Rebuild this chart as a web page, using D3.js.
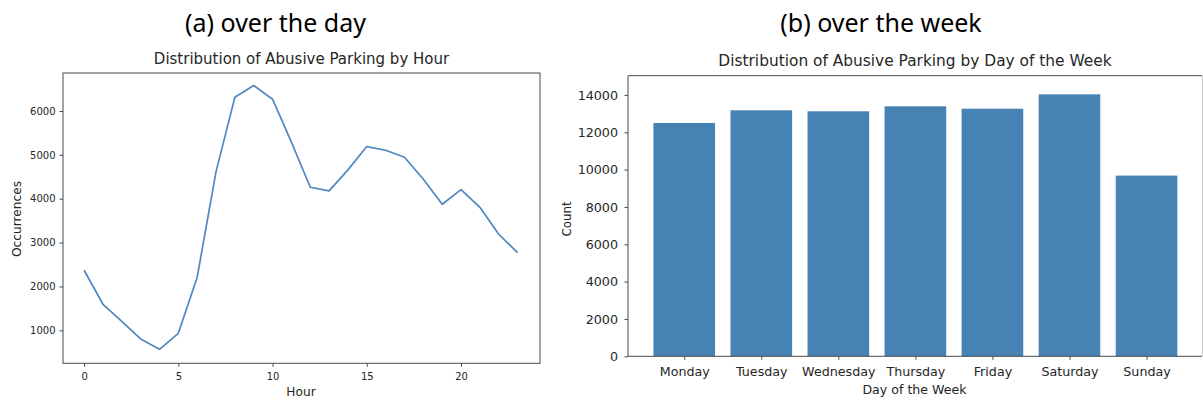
<!DOCTYPE html>
<html>
<head>
<meta charset="utf-8">
<script src="https://cdn.jsdelivr.net/npm/d3@7"></script>
<style>
  html, body { margin: 0; padding: 0; background: #fff; }
  svg { display: block; }
  text { font-family: "DejaVu Sans", sans-serif; fill: #262626; }
  .head { font-family: "Noto Sans", "Open Sans", sans-serif; fill: #000; }
</style>
</head>
<body>
<svg id="fig" width="1203" height="401"></svg>
<script>
// Hourly counts of abusive parking events (hour 0..23)
const hours = d3.range(24);
const hourCounts = [2370, 1594, 1206, 803, 567, 932, 2210, 4618, 6315, 6580, 6269, 5290,
                    4262, 4178, 4657, 5189, 5105, 4946, 4444, 3874, 4208, 3805, 3190, 2771];
const hourTicks = [0, 5, 10, 15, 20];
const occTicks = [1000, 2000, 3000, 4000, 5000, 6000];

// Daily counts of abusive parking events
const days = ["Monday", "Tuesday", "Wednesday", "Thursday", "Friday", "Saturday", "Sunday"];
const dayCounts = [12497, 13176, 13123, 13390, 13262, 14032, 9679];
const countTicks = [0, 2000, 4000, 6000, 8000, 10000, 12000, 14000];

const svg = d3.select("#fig");
const frameColor = "#4a4a4a";
const lineColor = "#4f88c0";
const barColor = "#4682b4";

// Panel headings
svg.append("text").attr("class", "head").attr("x", 275.5).attr("y", 32)
  .attr("text-anchor", "middle").attr("font-size", 25).text("(a) over the day");
svg.append("text").attr("class", "head").attr("x", 881).attr("y", 32)
  .attr("text-anchor", "middle").attr("font-size", 25).text("(b) over the week");

// ---------- Left panel: line chart by hour ----------
const L = { left: 63, right: 540, top: 73, bottom: 363.3 };
const xH = d3.scaleLinear().domain([-1.12, 24.19]).range([L.left, L.right]);
const yH = d3.scaleLinear().domain([248, 6866]).range([L.bottom, L.top]);

const gL = svg.append("g");

gL.append("path")
  .datum(hours)
  .attr("fill", "none")
  .attr("stroke", lineColor)
  .attr("stroke-width", 1.7)
  .attr("stroke-linejoin", "round")
  .attr("d", d3.line().x(h => xH(h)).y(h => yH(hourCounts[h])));

gL.append("rect")
  .attr("x", L.left).attr("y", L.top)
  .attr("width", L.right - L.left).attr("height", L.bottom - L.top)
  .attr("fill", "none").attr("stroke", frameColor).attr("stroke-width", 1);

const axL_x = gL.append("g").attr("transform", `translate(0,${L.bottom})`)
  .call(d3.axisBottom(xH).tickValues(hourTicks).tickSize(3.5).tickPadding(6).tickFormat(d3.format("d")));
const axL_y = gL.append("g").attr("transform", `translate(${L.left},0)`)
  .call(d3.axisLeft(yH).tickValues(occTicks).tickSize(3.5).tickPadding(4).tickFormat(d3.format("d")));
[axL_x, axL_y].forEach(a => {
  a.select(".domain").remove();
  a.selectAll("line").attr("stroke", frameColor);
  a.selectAll("text").attr("font-size", 10).attr("font-family", "DejaVu Sans").attr("fill", "#262626");
});

gL.append("text").attr("x", (L.left + L.right) / 2).attr("y", 64)
  .attr("text-anchor", "middle").attr("font-size", 15).text("Distribution of Abusive Parking by Hour");
gL.append("text").attr("x", 301).attr("y", 395.6)
  .attr("text-anchor", "middle").attr("font-size", 12.2).text("Hour");
gL.append("text").attr("transform", "translate(20.5,219) rotate(-90)")
  .attr("text-anchor", "middle").attr("font-size", 12.2).text("Occurrences");

// ---------- Right panel: bar chart by day of week ----------
const R = { left: 628, right: 1202, top: 75.7, bottom: 356.3 };
const xD = d3.scaleLinear().domain([-0.73, 6.72]).range([R.left, R.right]);
const yD = d3.scaleLinear().domain([0, 15030]).range([R.bottom, R.top]);
const barW = 0.8;

const gR = svg.append("g");

gR.selectAll("rect.bar")
  .data(days)
  .join("rect")
  .attr("class", "bar")
  .attr("x", (d, i) => xD(i - barW / 2))
  .attr("width", (d, i) => xD(i + barW / 2) - xD(i - barW / 2))
  .attr("y", (d, i) => yD(dayCounts[i]))
  .attr("height", (d, i) => yD(0) - yD(dayCounts[i]))
  .attr("fill", barColor);

gR.append("path")
  .attr("d", `M${R.right},${R.top}H${R.left}V${R.bottom}H${R.right}`)
  .attr("fill", "none").attr("stroke", frameColor).attr("stroke-width", 1);
gR.append("line")
  .attr("x1", R.right + 0.5).attr("x2", R.right + 0.5)
  .attr("y1", R.top).attr("y2", R.bottom)
  .attr("stroke", "#c8c8c8").attr("stroke-width", 1);

const axR_x = gR.append("g").attr("transform", `translate(0,${R.bottom})`)
  .call(d3.axisBottom(xD).tickValues(d3.range(days.length)).tickSize(3.5).tickPadding(7.5)
    .tickFormat(i => days[i]));
const axR_y = gR.append("g").attr("transform", `translate(${R.left},0)`)
  .call(d3.axisLeft(yD).tickValues(countTicks).tickSize(3.5).tickPadding(6.5).tickFormat(d3.format("d")));
[axR_x, axR_y].forEach(a => {
  a.select(".domain").remove();
  a.selectAll("line").attr("stroke", frameColor);
  a.selectAll("text").attr("font-size", 12.7).attr("font-family", "DejaVu Sans").attr("fill", "#262626");
});

gR.append("text").attr("x", (R.left + R.right) / 2).attr("y", 66)
  .attr("text-anchor", "middle").attr("font-size", 15.4)
  .text("Distribution of Abusive Parking by Day of the Week");
gR.append("text").attr("x", 914.5).attr("y", 394)
  .attr("text-anchor", "middle").attr("font-size", 12.6).text("Day of the Week");
gR.append("text").attr("transform", "translate(570.5,219) rotate(-90)")
  .attr("text-anchor", "middle").attr("font-size", 11.8).text("Count");
</script>
</body>
</html>
